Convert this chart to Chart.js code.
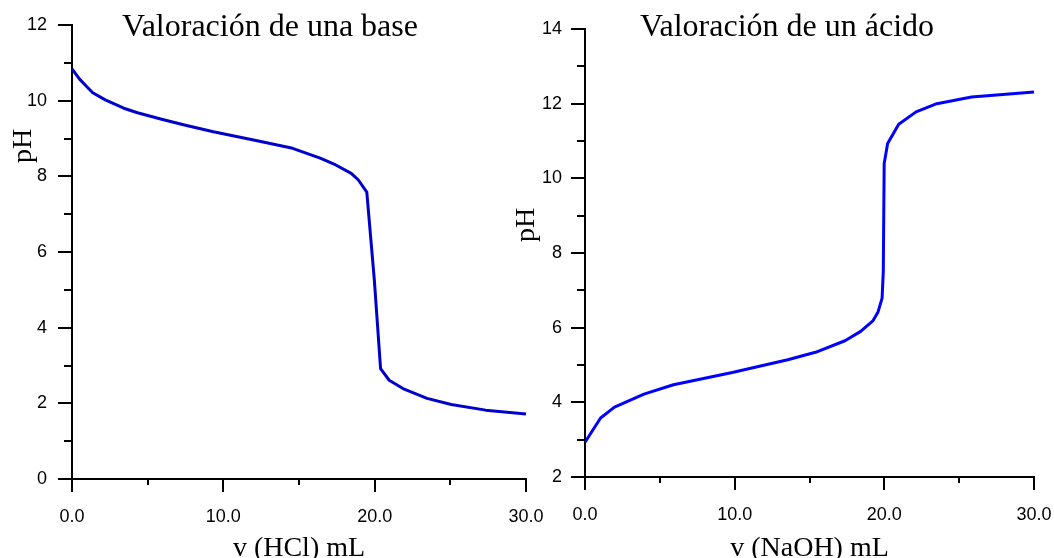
<!DOCTYPE html>
<html>
<head>
<meta charset="utf-8">
<script src="https://cdn.jsdelivr.net/npm/chart.js@4.4.1/dist/chart.umd.min.js"></script>
<style>
  body { margin: 0; background: #fff; }
  #lienzo { position: relative; width: 1054px; height: 558px; overflow: hidden; }
  canvas { position: absolute; top: 0; }
</style>
</head>
<body>
<div id="lienzo">
  <canvas id="graficaBase" width="560" height="558" style="left:0px"></canvas>
  <canvas id="graficaAcido" width="554" height="558" style="left:500px"></canvas>
</div>
<script>
// valoracion de una base con HCl
const volHCl = [0, 0.5, 1.03, 1.37, 2.2, 3.42, 4.33, 5.92, 7.5, 9.34, 12, 14.58, 16.4, 17.43, 18.45, 18.91, 19.48, 19.98, 20.39, 20.96, 21.87, 23.46, 25.06, 27.33, 30];
const pHBase = [10.84, 10.57, 10.35, 10.21, 10.02, 9.8, 9.68, 9.51, 9.35, 9.18, 8.96, 8.74, 8.48, 8.3, 8.08, 7.91, 7.58, 5.25, 2.92, 2.61, 2.39, 2.13, 1.97, 1.82, 1.72];

// valoracion de un acido con NaOH
const volNaOH = [0, 1.04, 1.97, 3.94, 5.91, 9.84, 13.55, 15.4, 17.37, 18.42, 19.23, 19.57, 19.85, 19.93, 19.99, 20.22, 20.96, 22.12, 23.51, 25.83, 30];
const pHAcido = [2.93, 3.58, 3.87, 4.22, 4.47, 4.8, 5.14, 5.34, 5.65, 5.9, 6.18, 6.41, 6.79, 7.5, 10.4, 10.93, 11.45, 11.78, 12.0, 12.18, 12.31];

const xMarcas = [0, 5, 10, 15, 20, 25, 30];
const yMarcasBase = [0, 1, 2, 3, 4, 5, 6, 7, 8, 9, 10, 11, 12];
const yMarcasAcido = [2, 3, 4, 5, 6, 7, 8, 9, 10, 11, 12, 13, 14];

const fuenteNum = { family: '"Liberation Sans", Arial, sans-serif', size: 18 };
const serif = '"Liberation Serif", "Times New Roman", serif';

// marcas de los ejes (mayores y menores)
function marcas(yMarcas) {
  return {
    id: 'marcas',
    afterDraw(chart) {
      const { ctx, chartArea, scales: { x, y } } = chart;
      ctx.save();
      ctx.strokeStyle = '#000';
      ctx.lineWidth = 2;
      ctx.beginPath();
      xMarcas.forEach(v => {
        const px = Math.round(x.getPixelForValue(v));
        const largo = v % 10 === 0 ? 13 : 6;
        ctx.moveTo(px, chartArea.bottom);
        ctx.lineTo(px, chartArea.bottom + largo);
      });
      yMarcas.forEach(v => {
        const py = Math.round(y.getPixelForValue(v));
        const largo = v % 2 === 0 ? 14 : 8;
        ctx.moveTo(chartArea.left, py);
        ctx.lineTo(chartArea.left - largo, py);
      });
      ctx.stroke();
      ctx.restore();
    }
  };
}

// titulo y rotulos de los ejes
function rotulos(t) {
  return {
    id: 'rotulos',
    afterDraw(chart) {
      const { ctx, chartArea } = chart;
      ctx.save();
      ctx.fillStyle = '#000';
      ctx.textAlign = 'center';
      ctx.textBaseline = 'alphabetic';
      ctx.font = '32px ' + serif;
      ctx.fillText(t.titulo, t.tituloX, 36);
      ctx.font = '28px ' + serif;
      ctx.fillText(t.ejeX, (chartArea.left + chartArea.right) / 2, 556);
      ctx.translate(t.phX, t.phY);
      ctx.rotate(-Math.PI / 2);
      ctx.fillText('pH', 0, 0);
      ctx.restore();
    }
  };
}

function crear(id, vol, pH, color, yMin, yMax, anchoY, altoX, sepY, padding, yMarcas, textos) {
  return new Chart(document.getElementById(id), {
    type: 'line',
    data: {
      datasets: [{
        data: vol.map((v, i) => ({ x: v, y: pH[i] })),
        borderColor: color,
        borderWidth: 3,
        borderJoinStyle: 'round',
        pointRadius: 0,
        tension: 0,
        fill: false,
        clip: false
      }]
    },
    options: {
      responsive: false,
      animation: false,
      devicePixelRatio: 1,
      layout: { padding: padding },
      plugins: { legend: { display: false }, tooltip: { enabled: false } },
      scales: {
        x: {
          type: 'linear', min: 0, max: 30,
          afterFit: s => { s.height = altoX; },
          ticks: { stepSize: 10, padding: 0, maxRotation: 0, autoSkip: false, color: '#000', font: fuenteNum,
                   callback: v => v.toFixed(1) },
          grid: { display: false, drawTicks: true, tickLength: 27 },
          border: { display: true, color: '#000', width: 2 }
        },
        y: {
          min: yMin, max: yMax,
          afterFit: s => { s.width = anchoY; },
          ticks: { stepSize: 2, padding: 0, color: '#000', font: fuenteNum },
          grid: { display: false, drawTicks: true, tickLength: sepY },
          border: { display: true, color: '#000', width: 2 }
        }
      }
    },
    plugins: [marcas(yMarcas), rotulos(textos)]
  });
}

crear('graficaBase', volHCl, pHBase, '#0000cc', 0, 12, 72, 79, 25,
  { top: 25, right: 34, left: 0, bottom: 0 }, yMarcasBase,
  { titulo: 'Valoración de una base', tituloX: 270, ejeX: 'v (HCl) mL', phX: 31, phY: 146 });

crear('graficaAcido', volNaOH, pHAcido, '#0000ff', 2, 14, 85, 81, 23,
  { top: 29, right: 20, left: 0, bottom: 0 }, yMarcasAcido,
  { titulo: 'Valoración de un ácido', tituloX: 287, ejeX: 'v (NaOH) mL', phX: 34, phY: 225 });
</script>
</body>
</html>
